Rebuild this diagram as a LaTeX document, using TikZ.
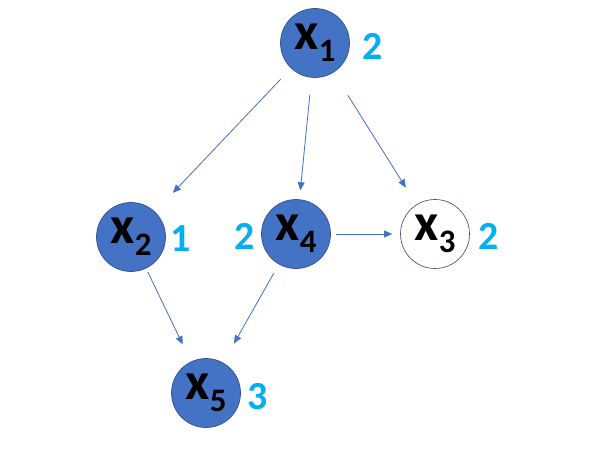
\documentclass[tikz,border=0pt]{standalone}
\usepackage{fontspec}
\setmainfont{Carlito}
\usetikzlibrary{arrows.meta}
\definecolor{nodeblue}{HTML}{4472C4}
\definecolor{rimblue}{HTML}{2F528F}
\definecolor{numcyan}{HTML}{00B0F0}
\newcommand{\varx}[1]{x\raisebox{-0.22em}{\fontsize{28}{28}\selectfont #1}}
\tikzset{
  varnode/.style={circle, draw=rimblue, fill=nodeblue, line width=0.6pt, minimum size=69*0.03cm, inner sep=0pt,
    font=\fontsize{45}{45}\selectfont\bfseries},
  freenode/.style={varnode, fill=white, draw=rimblue!80!black, line width=0.5pt},
  numlabel/.style={text=numcyan, font=\fontsize{34}{34}\selectfont\bfseries},
  link/.style={->, draw=nodeblue, line width=0.7pt}
}
\begin{document}
\begin{tikzpicture}[x=0.03cm, y=-0.03cm, >={Triangle[length=7pt,width=6pt]}]
    \useasboundingbox (0,0) rectangle (597,475);

    \node[varnode] (x1) at (315,43) {\varx{1}};
    \node[varnode] (x2) at (131,237) {\varx{2}};
    \node[varnode] (x4) at (296,234) {\varx{4}};
    \node[freenode] (x3) at (435,234) {\varx{3}};
    \node[varnode] (x5) at (206,393) {\varx{5}};

    \node[numlabel] (n1) at (373,46) {2};
    \node[numlabel] (n2) at (181,239) {1};
    \node[numlabel] (n4) at (245,236) {2};
    \node[numlabel] (n3) at (489,236) {2};
    \node[numlabel] (n5) at (258,397) {3};

    \draw[link, shorten <=15*0.03cm, shorten >=26*0.03cm] (x1) -- (x2);
    \draw[link, shorten <=17*0.03cm, shorten >=9*0.03cm] (x1) -- (x4);
    \draw[link, shorten <=27*0.03cm, shorten >=20*0.03cm] (x1) -- (x3);
    \draw[link, shorten <=5*0.03cm, shorten >=8*0.03cm] (x4) -- (x3);
    \draw[link, shorten <=4*0.03cm, shorten >=19*0.03cm] (x2) -- (x5);
    \draw[link, shorten <=10*0.03cm, shorten >=22*0.03cm] (x4) -- (x5);
\end{tikzpicture}
\end{document}
